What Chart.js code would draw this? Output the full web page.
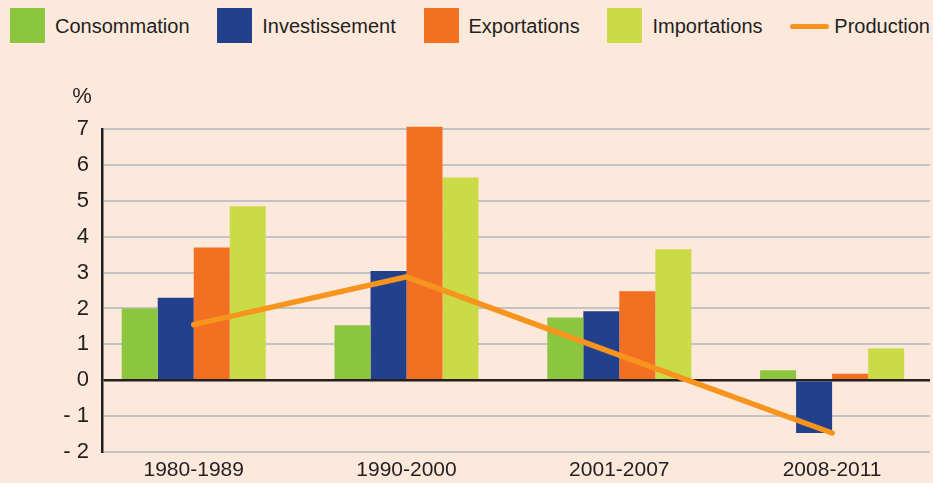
<!DOCTYPE html>
<html lang="fr">
<head>
<meta charset="utf-8">
<title>Croissance annuelle moyenne</title>
<script src="https://cdn.jsdelivr.net/npm/chart.js@4.4.1/dist/chart.umd.min.js"></script>
<style>
  body { margin: 0; background: #fce9dc; font-family: "Liberation Sans", Arial, sans-serif; }
  #wrap { position: relative; width: 933px; height: 483px; }
  #legende { position: absolute; left: 10px; right: 3px; top: 8px; height: 35px;
             display: flex; justify-content: space-between; align-items: center;
             font-size: 20px; color: #231f20; }
  .item { display: flex; align-items: center; white-space: nowrap; padding-top: 2px; }
  .carre { width: 35px; height: 35px; margin-right: 10px; margin-top: -2px; }
  .trait { width: 39px; height: 5px; border-radius: 3px; margin-right: 5px; }
  canvas { position: absolute; left: 0; top: 0; }
</style>
</head>
<body>
<div id="wrap">
  <div id="legende"></div>
  <canvas id="graphique" width="933" height="483"></canvas>
</div>
<script>
// Périodes (axe des abscisses)
var periodes = ['1980-1989', '1990-2000', '2001-2007', '2008-2011'];

// Taux de croissance annuels moyens, en %
var consommation   = [2.0, 1.53, 1.75, 0.28];
var investissement = [2.3, 3.04, 1.92, -1.47];
var exportations   = [3.7, 7.06, 2.48, 0.18];
var importations   = [4.85, 5.65, 3.65, 0.89];
var production     = [1.55, 2.88, 0.7, -1.47];

var couleurTexte = '#231f20';

// transforme une série en points {x, y} pour l'axe linéaire
function points(serie) {
    return serie.map(function(v, i) { return { x: i, y: v }; });
}

function barres(label, serie, couleur) {
    return {
        label: label,
        data: points(serie),
        backgroundColor: couleur,
        borderWidth: 0,
        categoryPercentage: 0.677,
        barPercentage: 1.0,
        clip: false,
        order: 1
    };
}

var jeux = [
    barres('Consommation', consommation, '#8cc63f'),
    barres('Investissement', investissement, '#23408c'),
    barres('Exportations', exportations, '#f37022'),
    barres('Importations', importations, '#cbdb48'),
    {
        label: 'Production',
        type: 'line',
        data: points(production),
        borderColor: '#f7941e',
        backgroundColor: '#f7941e',
        borderWidth: 5.5,
        borderCapStyle: 'round',
        pointRadius: 0,
        tension: 0,
        fill: false,
        order: 0
    }
];

// Légende en HTML (carrés hauts comme dans l'original)
var legende = document.getElementById('legende');
jeux.forEach(function(ds) {
    var item = document.createElement('div');
    item.className = 'item';
    var marque = document.createElement('span');
    marque.className = ds.type === 'line' ? 'trait' : 'carre';
    marque.style.background = ds.type === 'line' ? ds.borderColor : ds.backgroundColor;
    var texte = document.createElement('span');
    texte.textContent = ds.label;
    item.appendChild(marque);
    item.appendChild(texte);
    legende.appendChild(item);
});

// Le symbole % au-dessus de l'axe vertical
var pourcent = {
    id: 'pourcent',
    afterDraw: function(chart) {
        var c = chart.ctx;
        c.save();
        c.font = '22px "Liberation Sans"';
        c.fillStyle = couleurTexte;
        c.textAlign = 'center';
        c.textBaseline = 'middle';
        c.fillText('%', chart.chartArea.left - 20, chart.chartArea.top - 32);
        c.restore();
    }
};

var ctx = document.getElementById('graphique').getContext('2d');
var chart = new Chart(ctx, {
    type: 'bar',
    data: { datasets: jeux },
    plugins: [pourcent],
    options: {
        responsive: false,
        animation: false,
        layout: { padding: { top: 129, right: 3, left: 0, bottom: 0 } },
        plugins: {
            legend: { display: false },
            tooltip: { enabled: false }
        },
        scales: {
            x: {
                type: 'linear',
                min: -0.431,
                max: 3.46,
                offset: false,
                grid: { display: false, drawTicks: false },
                border: { display: false },
                afterBuildTicks: function(scale) {
                    scale.ticks = periodes.map(function(p, i) { return { value: i }; });
                },
                afterFit: function(scale) { scale.height = 31; },
                ticks: {
                    autoSkip: false,
                    maxRotation: 0,
                    padding: 6,
                    color: couleurTexte,
                    font: { family: '"Liberation Sans"', size: 21 },
                    callback: function(v) { return periodes[v]; }
                }
            },
            y: {
                min: -2,
                max: 7,
                grid: {
                    drawTicks: false,
                    color: function(c) { return c.tick && c.tick.value === 0 ? couleurTexte : '#c3c3c3'; },
                    lineWidth: function(c) { return c.tick && c.tick.value === 0 ? 2.5 : 2; }
                },
                border: { display: true, color: couleurTexte, width: 2.5 },
                afterFit: function(scale) { scale.width = 102; },
                ticks: {
                    stepSize: 1,
                    padding: 13,
                    color: couleurTexte,
                    font: { family: '"Liberation Sans"', size: 22 },
                    callback: function(v) { return v < 0 ? '- ' + Math.abs(v) : v; }
                }
            }
        }
    }
});
</script>
</body>
</html>
